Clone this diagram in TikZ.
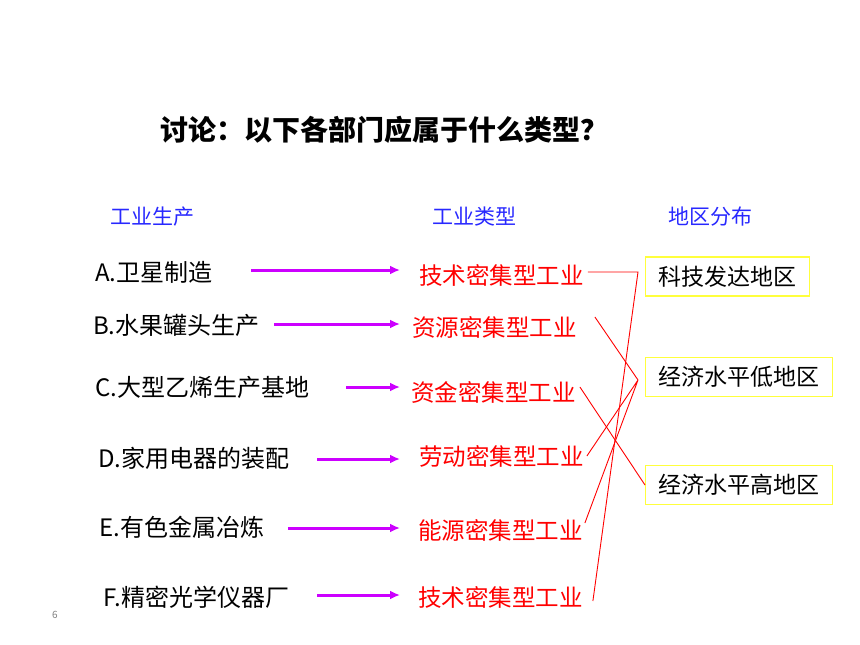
\documentclass[tikz,border=0pt]{standalone}
\usepackage{fontspec}
\setmainfont{Noto Sans CJK SC}
\usetikzlibrary{calc,arrows.meta}
\definecolor{headblue}{RGB}{40,40,255}
\definecolor{linkviolet}{RGB}{204,0,255}
\definecolor{areayellow}{RGB}{255,255,60}

\begin{document}
\begin{tikzpicture}[x=1pt,y=-1pt,
    head/.style={font=\fontsize{21}{24}\selectfont,text=headblue,inner sep=0pt,anchor=west},
    item/.style={font=\fontsize{24}{28}\selectfont,inner sep=0pt,anchor=west},
    kind/.style={font=\fontsize{23.5}{28}\selectfont,text=red,inner sep=0pt,anchor=west},
    area/.style={draw=areayellow,line width=1.2pt,font=\fontsize{23}{26}\selectfont,
                 minimum height=39pt,inner sep=0pt,anchor=west},
    link/.style={-{Latex[length=10pt,width=9pt]},linkviolet,line width=3pt},
    match/.style={red,line width=0.9pt}]
        \useasboundingbox (0,0) rectangle (860,645);
        \node[inner sep=0pt,anchor=west,font=\fontsize{28}{32}\selectfont\bfseries] (title) at (160,130) {讨论：以下各部门应属于什么类型？};
        \node[head] (h1) at (110,217) {工业生产};
        \node[head] (h2) at (432,217) {工业类型};
        \node[head] (h3) at (668,217) {地区分布};
        % industries
        \node[item] (p1) at (95,272) {A.卫星制造};
        \node[item] (p2) at (93,325) {B.水果罐头生产};
        \node[item] (p3) at (95,387) {C.大型乙烯生产基地};
        \node[item] (p4) at (98,458) {D.家用电器的装配};
        \node[item] (p5) at (99,527) {E.有色金属冶炼};
        \node[item] (p6) at (103,597) {F.精密光学仪器厂};
        % types
        \node[kind] (k1) at (419,275) {技术密集型工业};
        \node[kind] (k2) at (412,327) {资源密集型工业};
        \node[kind] (k3) at (411,392) {资金密集型工业};
        \node[kind] (k4) at (419,456) {劳动密集型工业};
        \node[kind] (k5) at (418,530) {能源密集型工业};
        \node[kind] (k6) at (418,597) {技术密集型工业};
        % regions
        \node[area,minimum width=164pt] (z1) at (645,276.5) {科技发达地区};
        \node[area,minimum width=187pt] (z2) at (645,377) {经济水平低地区};
        \node[area,minimum width=187pt] (z3) at (645,485) {经济水平高地区};
        \node[text=gray,font=\fontsize{10}{12}\selectfont,inner sep=0pt] (pg) at (55,615) {6};
        % arrows
        \coordinate (tip) at (400,0);
        \foreach \i/\sx/\sy in {1/251/270,2/274/324,3/346/387,4/317/459,5/288/528,6/317/595}{
            \coordinate (a\i) at (\sx,\sy);
            \draw[link] (a\i) -- (a\i -| tip);
        }
        % answers
        \coordinate (hub1) at (638,272);
        \coordinate (hub2) at (638,380);
        \draw[match] ($(k1.east)+(4,-3)$) -- (hub1) -- ($(k6.east)+(10,4)$);
        \draw[match] ($(k2.east)+(18,-10)$) -- (hub2)
                     ($(k4.east)+(3,0)$) -- (hub2)
                     ($(k5.east)+(2,-7)$) -- (hub2);
        \draw[match] ($(k3.east)+(4,-5)$) -- (z3.west);
\end{tikzpicture}
\end{document}
